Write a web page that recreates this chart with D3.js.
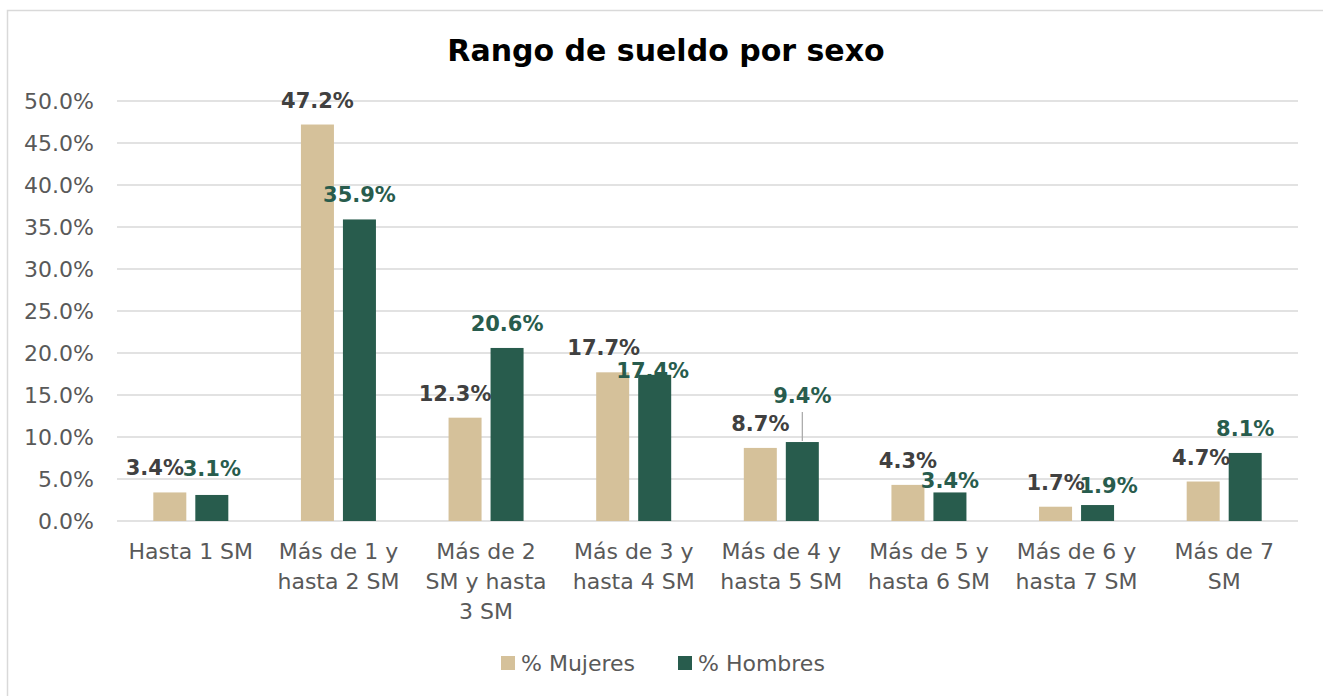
<!DOCTYPE html>
<html>
<head>
<meta charset="utf-8">
<script src="https://cdn.jsdelivr.net/npm/d3@7"></script>
<style>
  body { margin: 0; background: #fff; }
  svg text { font-family: "DejaVu Sans", sans-serif; }
</style>
</head>
<body>
<div id="container"></div>
<script>
// data
let categories = ["Hasta 1 SM", "Más de 1 y hasta 2 SM", "Más de 2 SM y hasta 3 SM", "Más de 3 y hasta 4 SM",
  "Más de 4 y hasta 5 SM", "Más de 5 y hasta 6 SM", "Más de 6 y hasta 7 SM", "Más de 7 SM"];
// how each category label wraps
let catLines = [["Hasta 1 SM"], ["Más de 1 y", "hasta 2 SM"], ["Más de 2", "SM y hasta", "3 SM"], ["Más de 3 y", "hasta 4 SM"],
  ["Más de 4 y", "hasta 5 SM"], ["Más de 5 y", "hasta 6 SM"], ["Más de 6 y", "hasta 7 SM"], ["Más de 7", "SM"]];
let seriesNames = ["% Mujeres", "% Hombres"];
let mujeres = [3.4, 47.2, 12.3, 17.7, 8.7, 4.3, 1.7, 4.7];
let hombres = [3.1, 35.9, 20.6, 17.4, 9.4, 3.4, 1.9, 8.1];
let yTicks = [0, 5, 10, 15, 20, 25, 30, 35, 40, 45, 50];

// manual nudges of data labels (the original had hand moved labels)
let nudgeM = [[-15, 0], [0, 0], [-10, 0], [-9, 0], [0, 0], [0, 0], [0, 0], [-2, 0]];
let nudgeH = [[0, -2], [0, 0], [0, 0], [-2, 20], [0, -22], [0, 13], [11, 5], [0, 0]];

let colors = ["#d5c19a", "#285c4d"];
let labelColors = ["#404040", "#285c4d"];

let w = 1323, h = 696;
let svg = d3.select("#container").append("svg").attr("width", w).attr("height", h);

// chart border
svg.append("rect").attr("x", 7.5).attr("y", 10.5).attr("width", w).attr("height", h)
  .attr("fill", "#fff").attr("stroke", "#d9d9d9").attr("stroke-width", 1.5);

svg.append("text").attr("x", 666).attr("y", 61).attr("text-anchor", "middle")
  .style("font-size", "30px").style("font-weight", "bold").attr("fill", "#000")
  .text("Rango de sueldo por sexo");

let x0 = d3.scaleBand().domain(categories).range([117, 1298]);
let x1 = d3.scaleBand().domain(seriesNames).range([-42, 42]).paddingInner(0.2143).paddingOuter(0.107);
let y = d3.scaleLinear().domain([0, 50]).range([521, 101]);

// gridlines
svg.append("g").selectAll("line").data(yTicks).join("line")
  .attr("x1", 117).attr("x2", 1298)
  .attr("y1", d => y(d)).attr("y2", d => y(d))
  .attr("stroke", "#d9d9d9").attr("stroke-width", 1.5);

// y labels
let yAxis = d3.axisLeft(y).tickValues(yTicks).tickFormat(d => d.toFixed(1) + "%").tickSize(0).tickPadding(0);
let gy = svg.append("g").attr("transform", "translate(94,0)").call(yAxis);
gy.select(".domain").remove();
gy.selectAll("text").style("font-size", "22px").style("font-family", "DejaVu Sans").attr("fill", "#595959");

let rows = categories.map((c, i) => ({cat: c, i: i, vals: [mujeres[i], hombres[i]]}));

let groups = svg.append("g").selectAll("g").data(rows).join("g")
  .attr("transform", d => `translate(${x0(d.cat) + x0.bandwidth() / 2},0)`);

groups.selectAll("rect").data(d => d.vals.map((v, k) => ({v: v, k: k, i: d.i}))).join("rect")
  .attr("x", d => x1(seriesNames[d.k]))
  .attr("width", x1.bandwidth())
  .attr("y", d => y(d.v))
  .attr("height", d => y(0) - y(d.v))
  .attr("fill", d => colors[d.k]);

// leader line for 9.4%
let li = 4;
svg.append("line")
  .attr("x1", x0(categories[li]) + x0.bandwidth() / 2 + x1(seriesNames[1]) + x1.bandwidth() / 2)
  .attr("x2", x0(categories[li]) + x0.bandwidth() / 2 + x1(seriesNames[1]) + x1.bandwidth() / 2)
  .attr("y1", y(hombres[li]) + nudgeH[li][1] - 8)
  .attr("y2", y(hombres[li]) - 1)
  .attr("stroke", "#a6a6a6").attr("stroke-width", 1.2);

groups.selectAll("text.val").data(d => d.vals.map((v, k) => ({v: v, k: k, i: d.i}))).join("text")
  .attr("class", "val")
  .attr("x", d => x1(seriesNames[d.k]) + x1.bandwidth() / 2 + (d.k ? nudgeH : nudgeM)[d.i][0])
  .attr("y", d => y(d.v) - 17 + (d.k ? nudgeH : nudgeM)[d.i][1])
  .attr("text-anchor", "middle")
  .style("font-size", "21px").style("font-weight", "bold")
  .attr("fill", d => labelColors[d.k])
  .text(d => d.v.toFixed(1) + "%");

// category labels
groups.each(function(d) {
  let t = d3.select(this).append("text").attr("text-anchor", "middle")
    .style("font-size", "22px").attr("fill", "#595959");
  catLines[d.i].forEach((ln, j) => {
    t.append("tspan").attr("x", 0).attr("y", 559 + j * 30).text(ln);
  });
});

// legend
let leg = svg.append("g").attr("transform", "translate(501,656)");
let legX = [0, 177];
seriesNames.forEach((s, k) => {
  leg.append("rect").attr("x", legX[k]).attr("y", 0).attr("width", 14).attr("height", 14).attr("fill", colors[k]);
  leg.append("text").attr("x", legX[k] + 20).attr("y", 15).style("font-size", "22px")
    .attr("fill", "#595959").text(s);
});
</script>
</body>
</html>
